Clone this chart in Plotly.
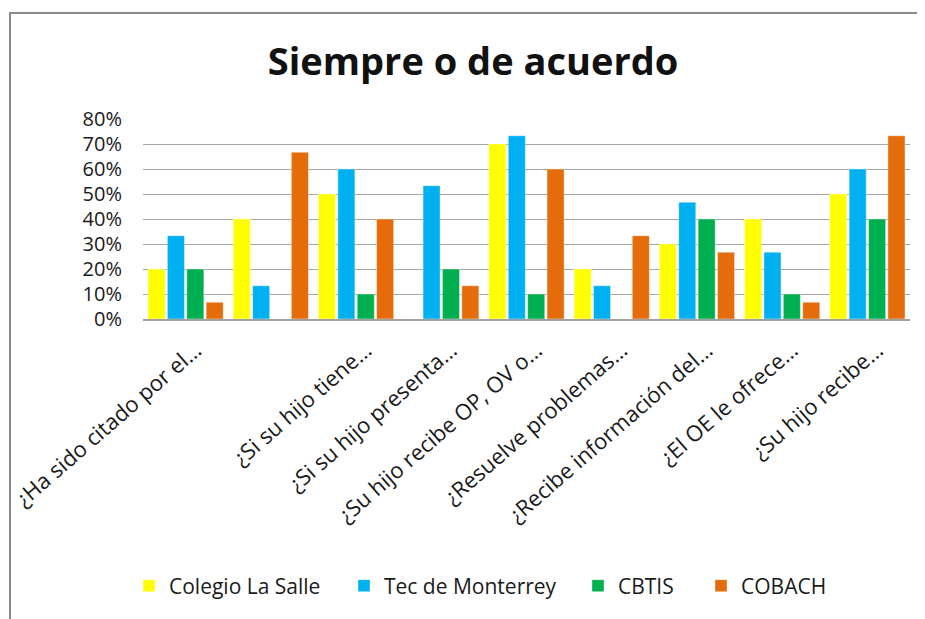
import plotly.graph_objects as go

categories = [
    "¿Ha sido citado por el…",
    "",
    "¿Si su hijo tiene…",
    "¿Si su hijo presenta…",
    "¿Su hijo recibe OP, OV o…",
    "¿Resuelve problemas…",
    "¿Recibe información del…",
    "¿El OE le ofrece…",
    "¿Su hijo recibe…",
]
la_salle = [0.20, 0.40, 0.50, 0.00, 0.70, 0.20, 0.30, 0.40, 0.50]
tec = [0.333, 0.133, 0.60, 0.533, 0.733, 0.133, 0.467, 0.267, 0.60]
cbtis = [0.20, 0.00, 0.10, 0.20, 0.10, 0.00, 0.40, 0.10, 0.40]
cobach = [0.067, 0.667, 0.40, 0.133, 0.60, 0.333, 0.267, 0.067, 0.733]
series_names = ["Colegio La Salle", "Tec de Monterrey", "CBTIS", "COBACH"]
colors = ["#FFFF00", "#00B0F0", "#00B050", "#E46C0A"]
y_ticks = [0, 0.1, 0.2, 0.3, 0.4, 0.5, 0.6, 0.7, 0.8]

FONT = "Open Sans"
TXT = "#1a1a1a"
positions = list(range(len(categories)))

# page offset (body margin) -> work in screen coordinates
OFF = 8
W, H = 925, 619
L = 143 - OFF
T = 119 - OFF
R = W - (910 - OFF)
B = H - (319 - OFF)
pw = W - L - R
ph = H - T - B

def px_x(p):
    return (p - OFF - L) / pw

def px_y(p):
    return (H - B - (p - OFF)) / ph

legend_ids = ["legend", "legend2", "legend3", "legend4"]
legend_text_x = [171, 386, 620, 743]

fig = go.Figure()
for name, vals, col, lg in zip(series_names, [la_salle, tec, cbtis, cobach], colors, legend_ids):
    fig.add_trace(go.Bar(
        x=positions, y=vals, name=name, legend=lg,
        marker=dict(color=col, line=dict(color="rgba(255,255,255,0.5)", width=0.8)),
    ))

legend_layout = {}
for lg, tx in zip(legend_ids, legend_text_x):
    legend_layout[lg] = dict(
        orientation="h", x=px_x(tx - 42), xanchor="left", y=px_y(586), yanchor="middle",
        font=dict(size=21, family=FONT, color=TXT), itemwidth=30,
        bgcolor="rgba(0,0,0,0)",
    )

fig.update_layout(
    width=W, height=H,
    margin=dict(l=L, r=R, t=T, b=B, autoexpand=False),
    paper_bgcolor="white", plot_bgcolor="white",
    barmode="group", bargap=0.09, bargroupgap=0.12,
    font=dict(family=FONT, color=TXT),
    title=dict(text="<b>Siempre o de acuerdo</b>", xref="paper", x=px_x(473), xanchor="center",
               y=1 - (62 - OFF) / H, yanchor="middle",
               font=dict(size=38, color="#111111", family=FONT)),
    xaxis=dict(
        tickmode="array", tickvals=positions, ticktext=categories,
        tickangle=-41, tickfont=dict(size=22, family=FONT, color=TXT),
        range=[-0.5, len(categories) - 0.5],
        showline=True, linecolor="#a0a0a0", linewidth=1.5,
        showgrid=False, zeroline=False, ticks="",
        ticklabelshift=10, ticklabelstandoff=8, automargin=False,
    ),
    yaxis=dict(
        range=[0, 0.8], tickvals=y_ticks, tickformat=".0%",
        tickfont=dict(size=20, family=FONT, color=TXT),
        showgrid=True, gridcolor="#a6a6a6", gridwidth=1.3,
        zeroline=False, showline=False, ticks="", ticklabelstandoff=20,
        automargin=False,
    ),
    showlegend=True,
    **legend_layout,
)

fig.add_shape(type="rect", xref="paper", yref="paper",
              x0=px_x(10), x1=px_x(960), y0=px_y(660), y1=px_y(13),
              line=dict(color="#8c8c8c", width=2), fillcolor="rgba(0,0,0,0)", layer="above")

fig.write_html("out.html")
